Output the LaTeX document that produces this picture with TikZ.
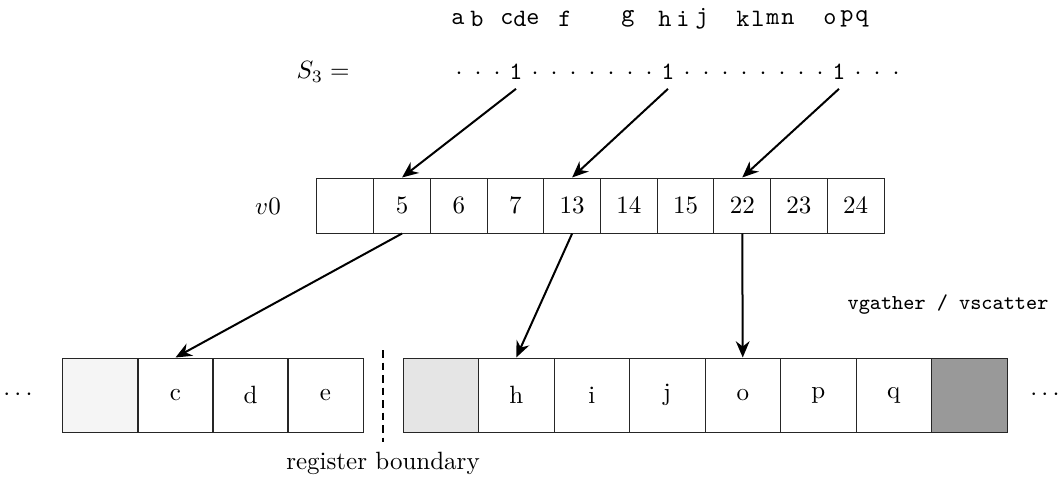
\documentclass[tikz,border=0pt]{standalone}
\usetikzlibrary{arrows.meta}
\begin{document}
\begin{tikzpicture}[x=0.4pt,y=-0.4pt,
  vbox/.style={draw=black!85, minimum width=22.7pt, minimum height=22pt, inner sep=0pt},
  mbox/.style={draw=black!85, minimum width=30.2pt, minimum height=29.6pt, inner sep=0pt},
  ttlet/.style={font=\fontsize{10}{12}\selectfont\ttfamily},
  ttrow/.style={font=\fontsize{10}{12}\selectfont\ttfamily},
  ttsm/.style={font=\fontsize{8.5}{10}\selectfont\ttfamily},
  arr/.style={-{Stealth[length=6.5pt,width=5.5pt]}, line width=0.8pt},
  bound/.style={line width=1.1pt, dash pattern=on 3pt off 2pt},
]
\useasboundingbox (0,0) rectangle (1062,493);
% top letters
\foreach \l/\x in {a/458,b/477,c/507,d/520,e/533,f/565,g/628,h/665,i/683,j/702,k/743,l/758,m/773,n/788,o/830,p/847,q/862}
  \node[ttlet] (t\l) at (\x,19) {\l};
% S3 row
\node (S) at (323,72) {$S_3 =$};
\foreach \i in {0,1,2,4,5,6,7,8,9,10,12,13,14,15,16,17,18,19,21,22,23}
  \node[ttrow, anchor=base] (s\i) at ({459+19*\i},80) {$\cdot$};
\node[ttrow, anchor=base] (one1) at (516,80) {1};
\node[ttrow, anchor=base] (one2) at (668,80) {1};
\node[ttrow, anchor=base] (one3) at (839,80) {1};
% v0 register
\node (v0) at (268,206) {$v0$};
\foreach \t [count=\k from 0] in {{},5,6,7,13,14,15,22,23,24}
  \node[vbox] (b\k) at ({317+56.7*(\k+0.5)},205.5) {\t};
% memory
\node (ldots) at (18,395) {$\cdots$};
\node[mbox, fill=black!4] (m0) at (100.5,395) {};
\node[mbox] (mc) at (175.5,395) {c};
\node[mbox] (md) at (250.5,395) {d};
\node[mbox] (me) at (325.5,395) {e};
\node[mbox, fill=black!10] (n0) at (440.75,395) {};
\node[mbox] (mh) at (516.25,395) {h};
\node[mbox] (mi) at (591.75,395) {i};
\node[mbox] (mj) at (667.25,395) {j};
\node[mbox] (mo) at (742.75,395) {o};
\node[mbox] (mp) at (818.25,395) {p};
\node[mbox] (mq) at (893.75,395) {q};
\node[mbox, fill=black!40] (n7) at (969.25,395) {};
\node (rdots) at (1045,395) {$\cdots$};
% boundary
\coordinate (bt) at (383,350);
\coordinate (bb) at (383,442);
\draw[bound] (bt) -- (bb);
\node (rb) at (383,463) {register boundary};
\node[ttsm] (vg) at (948,305) {vgather / vscatter};
% arrows
\draw[arr] (one1.south) -- (b1.north);
\draw[arr] (one2.south) -- (b4.north);
\draw[arr] (one3.south) -- (b7.north);
\draw[arr] (b1.south) -- (mc.north);
\draw[arr] (b4.south) -- (mh.north);
\draw[arr] (b7.south) -- (mo.north);
\end{tikzpicture}
\end{document}
